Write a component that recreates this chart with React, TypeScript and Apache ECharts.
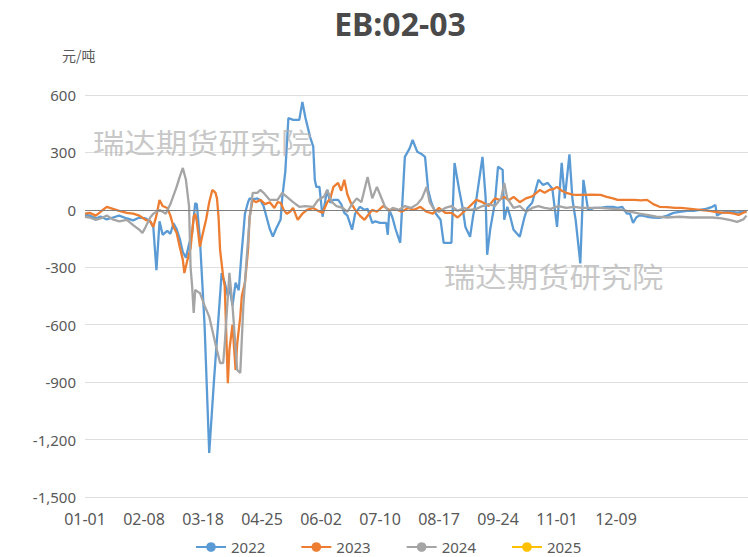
import React, { useEffect, useRef } from "react";
import * as echarts from "echarts";

const tickLabels = ["01-01", "02-08", "03-18", "04-25", "06-02", "07-10", "08-17", "09-24", "11-01", "12-09"];
const seriesNames = ["2022", "2023", "2024", "2025"];
const seriesColors = ["#5B9BD5", "#ED7D31", "#A5A5A5", "#FFC000"];

// [day since 01-01, value 元/吨]
const s2022: [number, number][] = [
  [0,-25],[3,-30],[7,-45],[10,-35],[14,-50],[18,-40],[22,-30],[27,-45],[31,-55],[35,-40],[39,-45],[42,-60],[44,-90],[46,-315],[48,-60],[50,-130],[53,-110],[55,-125],[57,-70],[59,-100],[61,-150],[63,-220],[65,-250],[67,-180],[69,-120],[71,35],[72,30],[74,-150],[77,-600],[80,-1270],[83,-900],[86,-560],[88,-330],[90,-380],[92,-450],[93,-400],[95,-500],[97,-380],[99,-420],[101,-210],[102,-120],[103,-20],[105,40],[106,60],[108,55],[111,60],[113,50],[115,20],[117,-40],[119,-100],[121,-140],[123,-100],[126,-50],[127,60],[129,200],[131,480],[134,470],[138,470],[140,564],[142,480],[145,380],[147,330],[148,157],[149,120],[151,120],[153,-36],[155,60],[156,105],[158,37],[160,52],[163,52],[165,30],[167,-16],[169,-30],[172,-104],[174,-20],[177,16],[180,0],[182,5],[185,-68],[187,-60],[190,-68],[194,-68],[195,-130],[196,0],[198,-40],[200,-100],[203,-172],[206,277],[209,320],[211,365],[214,303],[217,290],[219,277],[221,104],[223,40],[226,-20],[229,-52],[231,-172],[234,-172],[236,-172],[238,245],[241,104],[243,20],[245,-89],[248,-141],[250,-30],[252,52],[256,277],[258,68],[259,-235],[261,-100],[264,37],[266,225],[269,209],[270,-52],[272,16],[274,-40],[276,-104],[280,-141],[283,-40],[285,10],[288,37],[292,157],[295,130],[298,141],[301,110],[304,-89],[307,245],[309,60],[312,290],[314,50],[316,-52],[319,-280],[321,157],[324,0],[328,10],[332,10],[336,15],[340,16],[343,10],[346,16],[349,-20],[351,-20],[353,-68],[355,-40],[357,-30],[359,-30],[362,-36],[366,-40],[370,-42],[375,-30],[379,-16],[383,-10],[388,-5],[392,-5],[396,0],[400,5],[404,16],[406,26],[407,-30],[410,-15],[414,-10],[417,-10],[420,-15],[423,-10],[426,-10]
];

const s2023: [number, number][] = [
  [0,-20],[3,-16],[7,-30],[10,-10],[14,16],[18,5],[22,-5],[27,-16],[31,-20],[35,-30],[39,-52],[42,-60],[44,-89],[46,-30],[48,52],[50,20],[53,10],[55,-30],[57,-89],[59,-120],[61,-193],[63,-260],[64,-330],[66,-261],[68,-200],[70,-36],[71,-20],[72,-60],[74,-193],[76,-120],[78,-50],[80,40],[82,104],[84,90],[85,60],[86,-36],[87,-209],[89,-350],[90,-400],[92,-905],[93,-731],[95,-600],[97,-836],[98,-700],[100,-558],[101,-450],[103,-381],[105,-209],[106,-36],[108,52],[110,40],[113,52],[116,30],[119,40],[122,10],[124,40],[126,37],[128,0],[130,-20],[132,-10],[134,10],[137,-52],[140,-20],[143,0],[147,10],[150,-5],[153,-16],[156,40],[158,60],[160,120],[163,141],[165,100],[167,157],[169,80],[171,40],[174,0],[177,-30],[180,-52],[183,-20],[185,0],[188,-10],[192,20],[196,0],[200,5],[204,-10],[208,10],[212,0],[216,16],[220,-10],[224,-20],[228,10],[232,-16],[236,-16],[240,-40],[244,-10],[248,20],[252,52],[256,40],[260,20],[264,60],[267,52],[270,68],[273,50],[276,68],[280,40],[284,60],[288,70],[293,104],[296,90],[299,104],[302,110],[304,120],[307,100],[310,89],[314,80],[317,78],[322,78],[326,80],[332,78],[336,68],[340,60],[343,52],[348,52],[354,52],[358,50],[362,52],[366,30],[370,16],[375,14],[380,10],[384,10],[390,5],[396,0],[402,-5],[406,-10],[410,-14],[415,-16],[418,-20],[421,-26],[424,-15],[426,-10]
];

const s2024: [number, number][] = [
  [0,-36],[3,-40],[7,-52],[10,-45],[14,-30],[18,-50],[22,-60],[27,-52],[31,-80],[35,-104],[37,-120],[39,-90],[42,-40],[44,-20],[48,0],[52,-20],[55,30],[59,120],[61,172],[63,219],[65,157],[67,20],[68,-300],[69,-400],[70,-538],[71,-418],[73,-430],[74,-434],[77,-500],[80,-558],[84,-700],[87,-800],[89,-800],[90,-700],[93,-329],[95,-500],[98,-836],[100,-852],[102,-500],[104,-267],[106,-50],[108,89],[111,89],[113,104],[115,89],[119,52],[124,52],[127,89],[130,68],[134,40],[138,16],[142,20],[147,16],[150,50],[154,70],[156,104],[159,40],[162,20],[166,10],[169,-10],[172,30],[175,60],[178,40],[182,172],[185,60],[188,120],[190,80],[193,20],[196,-10],[198,10],[202,0],[206,20],[210,10],[214,30],[217,60],[220,120],[222,40],[225,0],[228,-10],[232,10],[236,20],[240,-5],[244,10],[248,0],[252,5],[256,20],[260,30],[264,20],[268,60],[270,140],[272,60],[276,10],[280,20],[284,-10],[288,10],[292,20],[296,10],[300,5],[305,20],[310,10],[315,16],[320,10],[325,10],[332,10],[340,5],[346,0],[352,-10],[357,-20],[362,-26],[368,-35],[375,-40],[383,-36],[390,-40],[396,-40],[404,-40],[410,-45],[415,-52],[420,-63],[424,-50],[426,-30]
];

const s2025: [number, number][] = [
  [0,-30],[3,-35],[7,-40]
];

const seriesData = [s2022, s2023, s2024, s2025];

export default function App() {
  const ref = useRef<HTMLDivElement>(null);
  useEffect(() => {
    const chart = echarts.init(ref.current!, null, { renderer: "svg" });
    const txt = "#595959";
    chart.setOption({
      animation: false,
      backgroundColor: "#ffffff",
      title: {
        text: "EB:02-03",
        left: 395,
        top: 2,
        textAlign: "center",
        textStyle: { fontSize: 32, fontWeight: "bold", color: "#4a4a4a", fontFamily: "Noto Sans" },
      },
      legend: {
        data: seriesNames,
        left: 190,
        top: 533,
        itemWidth: 30,
        itemHeight: 12,
        itemGap: 35,
        textStyle: { color: txt, fontSize: 15, fontFamily: "Noto Sans", lineHeight: 18 },
      },
      grid: { left: 85, right: 0, top: 95, bottom: 60, containLabel: false },
      xAxis: {
        type: "value",
        min: 0,
        max: 427,
        interval: 38,
        axisLine: { show: false, onZero: false },
        axisTick: { show: false },
        splitLine: { show: false },
        axisLabel: {
          color: txt,
          fontSize: 16,
          fontFamily: "Noto Sans",
          margin: 14,
          showMaxLabel: false,
          formatter: (v: number) => {
            const i = Math.round(v / 38);
            return Math.abs(v - i * 38) < 0.01 && tickLabels[i] ? tickLabels[i] : "";
          },
        },
      },
      yAxis: {
        type: "value",
        min: -1500,
        max: 600,
        interval: 300,
        axisLine: { show: false },
        axisTick: { show: false },
        splitLine: { lineStyle: { color: "#dedede", width: 1 } },
        axisLabel: {
          color: txt,
          fontSize: 15,
          fontFamily: "Noto Sans",
          margin: 9,
          formatter: (v: number) => v.toLocaleString("en-US"),
        },
      },
      graphic: [
        {
          type: "text",
          left: 62,
          top: 48,
          style: { text: "元/吨", fill: txt, fontSize: 14, fontFamily: "Noto Sans CJK SC" },
        },
        {
          type: "text",
          x: 93,
          y: 128,
          scaleX: 1.12,
          z: 100,
          style: { text: "瑞达期货研究院", fill: "rgba(175,175,175,0.7)", fontSize: 28, fontFamily: "Noto Sans CJK SC" },
        },
        {
          type: "text",
          x: 444,
          y: 262,
          scaleX: 1.12,
          z: 100,
          style: { text: "瑞达期货研究院", fill: "rgba(175,175,175,0.7)", fontSize: 28, fontFamily: "Noto Sans CJK SC" },
        },
      ],
      series: seriesNames.map((name, i) => ({
        name,
        type: "line",
        data: seriesData[i],
        showSymbol: false,
        symbol: "circle",
        symbolSize: 8,
        color: seriesColors[i],
        lineStyle: { width: 2.3, color: seriesColors[i] },
        z: i === 3 ? 1 : 2 + i,
        markLine:
          i === 0
            ? {
                silent: true,
                symbol: "none",
                label: { show: false },
                lineStyle: { color: "#7f7f7f", width: 1, type: "solid" },
                data: [{ yAxis: 0 }],
              }
            : undefined,
      })),
    });
    return () => chart.dispose();
  }, []);
  return (
    <div
      ref={ref}
      style={{ position: "fixed", left: 0, top: 0, width: 748, height: 557, background: "#fff" }}
    />
  );
}
